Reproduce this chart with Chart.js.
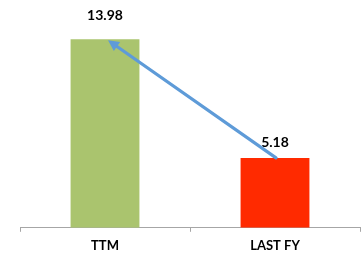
<!DOCTYPE html>
<html><head><meta charset="utf-8">
<script src="https://cdn.jsdelivr.net/npm/chart.js@4"></script>
<style>html,body{margin:0;padding:0;background:#fff}#wrap{width:361px;height:261px}</style>
</head><body><div id="wrap"><canvas id="c" width="361" height="261"></canvas></div>
<script>
const categories = ["TTM", "LAST FY"];
const values = [13.98, 5.18];
const valueLabels = ["13.98", "5.18"];
const barColors = ["#AAC46E", "#FF2A00"];

const labelPlugin = {
  id: 'labelsArrow',
  afterDatasetsDraw(chart) {
    const ctx = chart.ctx;
    const meta = chart.getDatasetMeta(0);
    ctx.save();
    ctx.font = 'bold 14px Lato';
    ctx.fillStyle = '#000';
    ctx.textAlign = 'center';
    ctx.textBaseline = 'middle';
    meta.data.forEach((bar, i) => {
      const off = i === 0 ? 24 : 15;
      ctx.fillText(valueLabels[i], bar.x, bar.y - off);
    });
    const a = meta.data[1], b = meta.data[0];
    const x1 = a.x + 1, y1 = a.y, x2 = b.x + 3, y2 = b.y + 1;
    const ang = Math.atan2(y2 - y1, x2 - x1);
    const head = 11, hw = 5.5;
    const bx = x2 - head * Math.cos(ang), by = y2 - head * Math.sin(ang);
    ctx.strokeStyle = '#5E9BD8';
    ctx.fillStyle = '#5E9BD8';
    ctx.lineWidth = 3.2;
    ctx.lineCap = 'round';
    ctx.beginPath();
    ctx.moveTo(x1, y1);
    ctx.lineTo(bx, by);
    ctx.stroke();
    ctx.beginPath();
    ctx.moveTo(x2, y2);
    ctx.lineTo(bx + hw * Math.sin(ang), by - hw * Math.cos(ang));
    ctx.lineTo(bx - hw * Math.sin(ang), by + hw * Math.cos(ang));
    ctx.closePath();
    ctx.fill();
    ctx.restore();
  }
};

new Chart(document.getElementById('c'), {
  type: 'bar',
  data: {
    labels: categories,
    datasets: [{ data: values, backgroundColor: barColors, borderWidth: 0,
      barPercentage: 0.81, categoryPercentage: 0.5 }]
  },
  options: {
    responsive: false,
    animation: false,
    layout: { padding: { left: 20, right: 1, top: 12, bottom: 0.6 } },
    plugins: { legend: { display: false }, tooltip: { enabled: false } },
    scales: {
      y: { display: false, min: 0, max: 16 },
      x: {
        grid: { display: true, drawOnChartArea: false, tickLength: 4, color: '#A6A6A6', offset: true },
        border: { display: true, color: '#A6A6A6', width: 1 },
        ticks: { padding: 6.5, color: '#000', font: { family: 'Lato', size: 13, weight: 'bold' } }
      }
    }
  },
  plugins: [labelPlugin]
});
</script></body></html>
